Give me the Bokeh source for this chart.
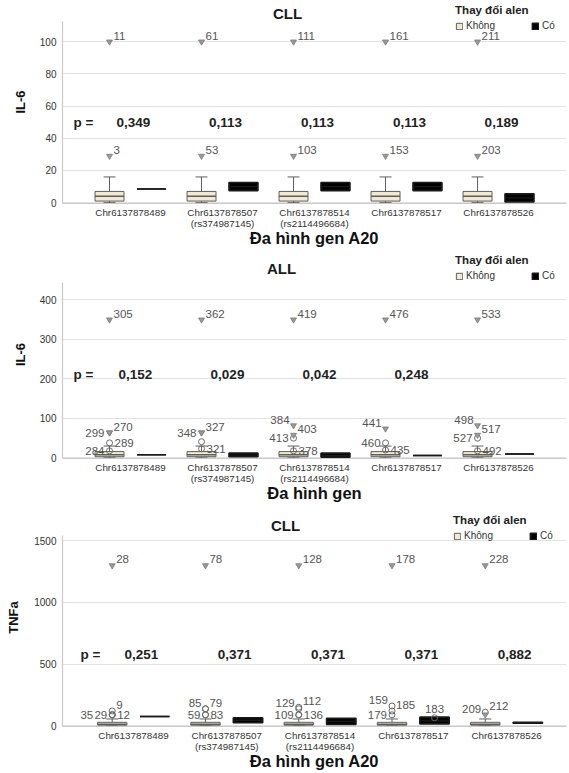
from bokeh.plotting import figure
from bokeh.models import ColumnDataSource, FixedTicker, Legend, LegendItem, Label, Range1d
from bokeh.layouts import column
from bokeh.embed import file_html
from bokeh.resources import INLINE
from bokeh.core.properties import value

FONT = "Liberation Sans"

# ---------------- data ----------------
genes = ["Chr6137878489", "Chr6137878507\n(rs374987145)", "Chr6137878514\n(rs2114496684)",
         "Chr6137878517", "Chr6137878526"]
group_names = ["Không", "Có"]
legend_title = "Thay đổi alen"

# Panel 1: CLL, IL-6
p1_title = "CLL"
p1_ylabel = "IL-6"
p1_xlabel = "Đa hình gen A20"
p1_yticks = [0, 20, 40, 60, 80, 100]
p1_pvalues = ["0,349", "0,113", "0,113", "0,113", "0,189"]
p1_p_level = 50
p1_khong_min = [0, 0, 0, 0, 0]
p1_khong_q1 = [1, 1, 1, 1, 1]
p1_khong_med = [4, 4, 4, 4, 4]
p1_khong_q3 = [7, 7, 7, 7, 7]
p1_khong_max = [16, 16, 16, 16, 16]
p1_co_min = [8.5, 7.5, 7.5, 7.5, 0.5]
p1_co_q1 = [8.5, 7.5, 7.5, 7.5, 0.5]
p1_co_med = [8.5, 10, 10, 10, 3]
p1_co_q3 = [8.5, 12.5, 12.5, 12.5, 5.5]
p1_co_max = [8.5, 12.5, 12.5, 12.5, 5.5]
p1_out_gene = [0, 1, 2, 3, 4, 0, 1, 2, 3, 4]
p1_out_group = ["Không"] * 10
p1_out_value = [29, 29, 29, 29, 29, 100, 100, 100, 100, 100]
p1_out_case = ["3", "53", "103", "153", "203", "11", "61", "111", "161", "211"]
p1_out_kind = ["extreme"] * 10
p1_out_side = ["ur"] * 10

# Panel 2: ALL, IL-6
p2_title = "ALL"
p2_ylabel = "IL-6"
p2_xlabel = "Đa hình gen"
p2_yticks = [0, 100, 200, 300, 400]
p2_pvalues = ["0,152", "0,029", "0,042", "0,248"]
p2_p_level = 210
p2_khong_min = [0, 0, 0, 0, 0]
p2_khong_q1 = [3, 3, 3, 3, 3]
p2_khong_med = [8, 8, 8, 8, 8]
p2_khong_q3 = [16, 16, 16, 16, 16]
p2_khong_max = [30, 30, 30, 30, 30]
p2_co_min = [8, 3, 2, 6, 10]
p2_co_q1 = [8, 3, 2, 6, 10]
p2_co_med = [8, 7, 6, 6, 10]
p2_co_q3 = [8, 12, 12, 6, 10]
p2_co_max = [8, 12, 12, 6, 10]
p2_out_gene = [0, 0, 0, 0, 0,
               1, 1, 1, 1, 1,
               2, 2, 2, 2, 2,
               3, 3, 3, 3,
               4, 4, 4, 4, 4]
p2_out_group = ["Không"] * 24
p2_out_value = [350, 64, 64, 38, 18,
                350, 64, 64, 41, 23,
                350, 82, 58, 50, 18,
                350, 74, 38, 20,
                350, 82, 58, 50, 18]
p2_out_case = ["305", "270", "299", "289", "284",
               "362", "327", "348", "", "321",
               "419", "384", "403", "413", "378",
               "476", "441", "460", "435",
               "533", "498", "517", "527", "492"]
p2_out_kind = ["extreme", "extreme", "extreme", "outlier", "outlier",
               "extreme", "extreme", "extreme", "outlier", "outlier",
               "extreme", "extreme", "extreme", "outlier", "outlier",
               "extreme", "extreme", "outlier", "outlier",
               "extreme", "extreme", "extreme", "outlier", "outlier"]
p2_out_side = ["ur", "ur", "l", "r", "l",
               "ur", "ur", "l", "r", "r",
               "ur", "ul", "ur", "l", "r",
               "ur", "ul", "l", "r",
               "ur", "ul", "ur", "l", "r"]

# Panel 3: CLL, TNFa
p3_title = "CLL"
p3_ylabel = "TNFa"
p3_xlabel = "Đa hình gen A20"
p3_yticks = [0, 500, 1000, 1500]
p3_pvalues = ["0,251", "0,371", "0,371", "0,371", "0,882"]
p3_p_level = 580
p3_khong_min = [0, 0, 0, 0, 0]
p3_khong_q1 = [5, 5, 5, 5, 5]
p3_khong_med = [12, 12, 12, 12, 12]
p3_khong_q3 = [28, 28, 28, 28, 28]
p3_khong_max = [55, 55, 55, 55, 55]
p3_co_min = [75, 25, 10, 15, 20]
p3_co_q1 = [75, 25, 10, 15, 20]
p3_co_med = [75, 45, 35, 40, 24]
p3_co_q3 = [75, 65, 60, 70, 28]
p3_co_max = [75, 65, 60, 70, 28]
p3_out_gene = [0, 0, 0, 0, 0,
               1, 1, 1, 1, 1,
               2, 2, 2, 2, 2,
               3, 3, 3, 3, 3,
               4, 4, 4]
p3_out_group = ["Không"] * 19 + ["Có"] + ["Không"] * 3
p3_out_value = [1300, 120, 89, 89, 89,
                1300, 138, 138, 89, 89,
                1300, 138, 150, 89, 89,
                1300, 160, 120, 89, 65,
                1300, 90, 110]
p3_out_case = ["28", "9", "29", "35", "12",
               "78", "85", "79", "59", "83",
               "128", "129", "112", "109", "136",
               "178", "159", "185", "179", "183",
               "228", "209", "212"]
p3_out_kind = ["extreme", "outlier", "outlier", "outlier", "outlier",
               "extreme", "outlier", "outlier", "outlier", "outlier",
               "extreme", "outlier", "outlier", "outlier", "outlier",
               "extreme", "outlier", "outlier", "outlier", "outlier",
               "extreme", "extreme", "outlier"]
p3_out_side = ["ur", "ur", "l", "ll", "r",
               "ur", "ul", "ur", "l", "r",
               "ur", "ul", "ur", "l", "r",
               "ur", "ul", "ur", "l", "u",
               "ur", "ul", "ur"]

panels = [
    dict(title=p1_title, ylabel=p1_ylabel, xlabel=p1_xlabel, yticks=p1_yticks, pvalues=p1_pvalues,
         p_level=p1_p_level,
         khong=(p1_khong_min, p1_khong_q1, p1_khong_med, p1_khong_q3, p1_khong_max),
         co=(p1_co_min, p1_co_q1, p1_co_med, p1_co_q3, p1_co_max),
         out=(p1_out_gene, p1_out_group, p1_out_value, p1_out_case, p1_out_kind, p1_out_side)),
    dict(title=p2_title, ylabel=p2_ylabel, xlabel=p2_xlabel, yticks=p2_yticks, pvalues=p2_pvalues,
         p_level=p2_p_level,
         khong=(p2_khong_min, p2_khong_q1, p2_khong_med, p2_khong_q3, p2_khong_max),
         co=(p2_co_min, p2_co_q1, p2_co_med, p2_co_q3, p2_co_max),
         out=(p2_out_gene, p2_out_group, p2_out_value, p2_out_case, p2_out_kind, p2_out_side)),
    dict(title=p3_title, ylabel=p3_ylabel, xlabel=p3_xlabel, yticks=p3_yticks, pvalues=p3_pvalues,
         p_level=p3_p_level,
         khong=(p3_khong_min, p3_khong_q1, p3_khong_med, p3_khong_q3, p3_khong_max),
         co=(p3_co_min, p3_co_q1, p3_co_med, p3_co_q3, p3_co_max),
         out=(p3_out_gene, p3_out_group, p3_out_value, p3_out_case, p3_out_kind, p3_out_side)),
]

# ---------------- layout / style ----------------
W = 569
geoms = [
    dict(h=250, x0=-0.739, x1=4.739, y0=-0.5, y1=125.6, ytop=112.4, bl=62, bb=47, ystand=9,
         tx=225, ty=117.5, lm=4, px=11, pdx=3),
    dict(h=258, x0=-0.739, x1=4.739, y0=-1.5, y1=525.1, ytop=445, bl=62, bb=50, ystand=9,
         tx=219, ty=479.5, lm=4, px=11, pdx=5),
    dict(h=265, x0=-0.761, x1=4.643, y0=-6, y1=1762, ytop=1540, bl=62, bb=47, ystand=10,
         tx=223, ty=1624, lm=6, px=18, pdx=8),
]
OFF = {"ur": (4, -6, "left"), "ul": (-4, -6, "right"), "r": (5, 0, "left"),
       "l": (-5, 0, "right"), "ll": (-19, 0, "right"), "u": (0, -9, "center")}
DODGE = {"Không": -0.228, "Có": 0.228}
BW = 0.315
CAP = 0.065
STY = {"Không": dict(fill="#f2e9d0", line="#5e5e5e", lw=1),
       "Có": dict(fill="#000000", line="#1a1a1a", lw=1.6)}


def make_panel(d, g):
    p = figure(width=W, height=g["h"], x_range=Range1d(g["x0"], g["x1"]),
               y_range=Range1d(g["y0"], g["y1"]), output_backend="svg",
               toolbar_location=None, title=None,
               min_border_left=g["bl"], min_border_right=3,
               min_border_top=0, min_border_bottom=g["bb"])
    p.outline_line_color = None
    p.background_fill_color = "white"
    p.xgrid.visible = False
    p.ygrid.grid_line_color = "#e2e2e2"
    p.yaxis.ticker = FixedTicker(ticks=d["yticks"])
    p.yaxis.bounds = (g["y0"], g["ytop"])
    p.xaxis.ticker = FixedTicker(ticks=list(range(len(genes))))
    p.xaxis.major_label_overrides = {i: gname for i, gname in enumerate(genes)}
    for ax in (p.xaxis[0], p.yaxis[0]):
        ax.major_tick_line_color = None
        ax.minor_tick_line_color = None
        ax.major_tick_out = 0
        ax.major_tick_in = 0
        ax.minor_tick_out = 0
        ax.minor_tick_in = 0
        ax.axis_line_color = "#c9c9c9"
        ax.axis_line_width = 1.2
        ax.major_label_text_font = FONT
        ax.major_label_text_color = "#333333"
        ax.axis_label_text_font = FONT
        ax.axis_label_text_font_style = "bold"
        ax.axis_label_text_color = "#111111"
    p.yaxis.major_label_text_font_size = "10px"
    p.yaxis.major_label_standoff = 6
    p.yaxis.axis_label = d["ylabel"]
    p.yaxis.axis_label_text_font_size = "13px"
    p.yaxis.axis_label_standoff = g["ystand"]
    p.xaxis.major_label_text_font_size = "9.8px"
    p.xaxis.major_label_text_line_height = 1.05
    p.xaxis.major_label_standoff = 3
    p.xaxis.axis_label = d["xlabel"]
    p.xaxis.axis_label_text_font_size = "16.5px"
    p.xaxis.axis_label_text_line_height = 1.0
    p.xaxis.axis_label_standoff = -3

    rend = {}
    for grp, stats in (("Không", d["khong"]), ("Có", d["co"])):
        lo, q1, med, q3, hi = stats
        n = len(genes)
        xs = [i + DODGE[grp] for i in range(n)]
        s = STY[grp]
        src = ColumnDataSource(dict(
            x=xs, lo=lo, q1=q1, med=med, q3=q3, hi=hi,
            bl=[x - BW / 2 for x in xs], br=[x + BW / 2 for x in xs],
            cl=[x - CAP for x in xs], cr=[x + CAP for x in xs],
            hic=[h if h > t else float("nan") for h, t in zip(hi, q3)],
            loc=[l if l < b else float("nan") for l, b in zip(lo, q1)],
        ))
        p.segment(x0="x", y0="q3", x1="x", y1="hi", source=src, line_color=s["line"], line_width=1)
        p.segment(x0="x", y0="q1", x1="x", y1="lo", source=src, line_color=s["line"], line_width=1)
        p.segment(x0="cl", y0="hic", x1="cr", y1="hic", source=src, line_color=s["line"], line_width=1)
        p.segment(x0="cl", y0="loc", x1="cr", y1="loc", source=src, line_color=s["line"], line_width=1)
        rend[grp] = p.vbar(x="x", width=BW, bottom="q1", top="q3", source=src,
                           fill_color=s["fill"], line_color=s["line"], line_width=s["lw"])
        p.segment(x0="bl", y0="med", x1="br", y1="med", source=src, line_color=s["line"], line_width=1.4)

    gene, grp, val, case, kind, side = d["out"]
    ox = [gi + DODGE[gr] for gi, gr in zip(gene, grp)]
    osrc = ColumnDataSource(dict(
        x=ox, y=val, t=case,
        dx=[OFF[sd][0] for sd in side], dy=[OFF[sd][1] for sd in side],
        al=[OFF[sd][2] for sd in side]))
    ext = ColumnDataSource(dict(x=[x for x, k in zip(ox, kind) if k == "extreme"],
                                y=[v for v, k in zip(val, kind) if k == "extreme"]))
    olr = ColumnDataSource(dict(x=[x for x, k in zip(ox, kind) if k == "outlier"],
                                y=[v for v, k in zip(val, kind) if k == "outlier"]))
    p.scatter(x="x", y="y", source=olr, marker="circle", size=6, fill_color=None,
              line_color="#6a6a6a", line_width=1)
    p.scatter(x="x", y="y", source=ext, marker="inverted_triangle", size=6,
              fill_color="#9a9a9a", line_color="#7a7a7a", line_width=0.8)
    p.text(x="x", y="y", text="t", source=osrc, x_offset="dx", y_offset="dy",
           text_align="al", text_baseline="middle", text_font=value(FONT),
           text_font_size="11.5px", text_color="#555555")

    # p-values
    pv = d["pvalues"]
    p.text(x=list(range(len(pv))), y=[d["p_level"]] * len(pv), text=pv, x_offset=g["pdx"],
           text_align="center", text_baseline="middle", text_font=value(FONT),
           text_font_size="13.5px", text_font_style="bold", text_color="#222222")
    p.add_layout(Label(x=g["px"], y=d["p_level"], x_units="screen", y_units="data", text="p =",
                       text_font=FONT, text_font_size="13.5px", text_font_style="bold",
                       text_color="#222222", text_baseline="middle"))

    # title
    p.add_layout(Label(x=g["tx"], y=g["ty"], x_units="screen", y_units="data", text=d["title"],
                       text_font=FONT, text_font_size="15px", text_font_style="bold",
                       text_color="#1a1a1a", text_align="center", text_baseline="middle"))

    legend = Legend(items=[LegendItem(label=group_names[0], renderers=[rend["Không"]]),
                           LegendItem(label=group_names[1], renderers=[rend["Có"]])],
                    location="top_right", orientation="horizontal", title=legend_title,
                    title_text_font=FONT, title_text_font_size="11.5px", title_text_font_style="bold",
                    title_text_color="#222222", title_standoff=4,
                    label_text_font=FONT, label_text_font_size="10px", label_text_color="#333333",
                    glyph_width=8, glyph_height=8, label_height=10, label_standoff=3, spacing=36,
                    padding=0, margin=g["lm"], border_line_color=None, background_fill_alpha=0)
    p.add_layout(legend)
    return p


figs = [make_panel(d, g) for d, g in zip(panels, geoms)]
layout = column(*figs, spacing=0)
open("out.html", "w").write(file_html(layout, INLINE))
